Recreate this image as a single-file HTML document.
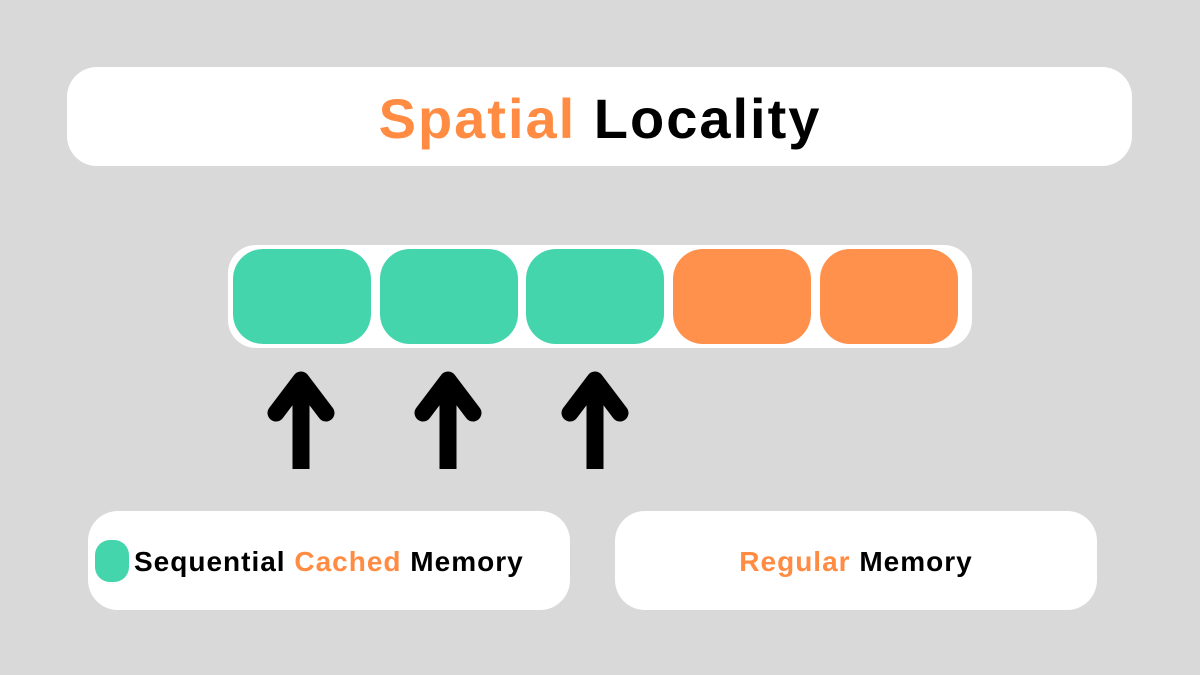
<!DOCTYPE html>
<html><head><style>
body{margin:0;width:1200px;height:675px;background:#d9d9d9;position:relative;overflow:hidden;font-family:"Liberation Sans",sans-serif;font-weight:bold}
.box{position:absolute;background:#fff;border-radius:30px}
.o{color:#ff8c42}
.cell{position:absolute;top:249px;width:138px;height:95px;border-radius:30px}
.g{background:#45d5ad}.r{background:#ff914d}
.t{position:absolute;white-space:nowrap}
</style></head><body>
<div class="box" style="left:67px;top:67px;width:1065px;height:99px"></div>
<div class="t" style="left:0;width:1200px;text-align:center;top:84px;font-size:56px;line-height:70px;letter-spacing:2px"><span class="o">Spatial</span> Locality</div>
<div class="box" style="left:228px;top:245px;width:744px;height:103px;border-radius:28px"></div>
<div class="cell g" style="left:233px"></div>
<div class="cell g" style="left:380px"></div>
<div class="cell g" style="left:526px"></div>
<div class="cell r" style="left:673px"></div>
<div class="cell r" style="left:820px"></div>
<svg style="position:absolute;left:0;top:0" width="1200" height="675">
<g stroke="#000" fill="none" stroke-linecap="round" stroke-linejoin="round">
<g stroke-width="17"><path d="M301 469V385M448 469V385M595 469V385" stroke-linecap="butt"/></g>
<g stroke-width="17"><path d="M276 413L301 380L326 413M423 413L448 380L473 413M570 413L595 380L620 413"/></g>
</g></svg>
<div class="box" style="left:88px;top:511px;width:482px;height:99px"></div>
<div style="position:absolute;left:95px;top:540px;width:34px;height:42px;border-radius:15px;background:#45d5ad"></div>
<div class="t" style="left:134px;top:544px;font-size:28px;line-height:36px;letter-spacing:1px">Sequential <span class="o">Cached</span> Memory</div>
<div class="box" style="left:615px;top:511px;width:482px;height:99px"></div>
<div class="t" style="left:615px;width:482px;text-align:center;top:544px;font-size:28px;line-height:36px;letter-spacing:1px"><span class="o">Regular</span> Memory</div>
</body></html>
